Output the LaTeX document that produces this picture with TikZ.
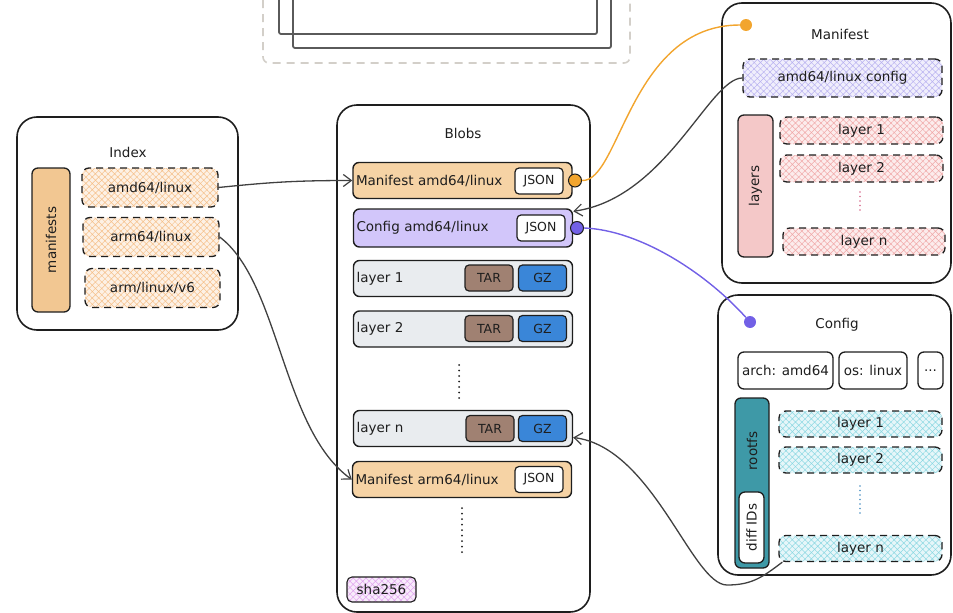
\documentclass[tikz,border=0pt]{standalone}
\usepackage{fontspec}
\setmainfont{DejaVu Sans}
\usetikzlibrary{arrows.meta,patterns.meta}

\definecolor{ink}{HTML}{1E1E1E}
\definecolor{framegray}{HTML}{D3CFC9}
\definecolor{framedark}{HTML}{5A5A5A}
\definecolor{barorange}{HTML}{F2C792}
\definecolor{roworange}{HTML}{F6D3A5}
\definecolor{rowpurple}{HTML}{D2C6FA}
\definecolor{rowgray}{HTML}{E9ECEF}
\definecolor{tarbrown}{HTML}{A08172}
\definecolor{gzblue}{HTML}{3A86D8}
\definecolor{hatchorange}{HTML}{F5C08A}
\definecolor{hatchviolet}{HTML}{E0A4EE}
\definecolor{hatchlavender}{HTML}{B9B2F0}
\definecolor{hatchpink}{HTML}{F0A8A8}
\definecolor{hatchcyan}{HTML}{8CD8E2}
\definecolor{barpink}{HTML}{F4C8C8}
\definecolor{barteal}{HTML}{3E99A7}
\definecolor{dotorange}{HTML}{F2A52E}
\definecolor{dotpurple}{HTML}{7260E6}
\definecolor{dotsred}{HTML}{D66A8C}
\definecolor{dotsblue}{HTML}{4A90C2}

\tikzset{
  every node/.style={font=\fontsize{13.5}{15}\selectfont, text=ink},
  box/.style={draw=ink, line width=1.6pt, rounded corners=20pt, inner sep=0pt},
  title/.style={inner sep=1pt},
  row/.style={draw=ink, line width=1.4pt, rounded corners=6pt, fill=#1, minimum height=36pt,
    text width=213pt, inner xsep=3pt, inner ysep=0pt, align=left},
  tag/.style={draw=ink, line width=1.2pt, rounded corners=4pt, fill=#1, minimum width=48pt,
    minimum height=26pt, inner sep=0pt, font=\fontsize{12.5}{13}\selectfont},
  item/.style={draw=ink, dash pattern=on 7pt off 5pt, line width=1.3pt, rounded corners=7pt,
    inner sep=0pt, preaction={fill=#1!22},
    pattern={Hatch[angle=45,distance=4.5pt,line width=0.5pt]}, pattern color=#1},
  plain/.style={draw=ink, line width=1.3pt, rounded corners=6pt, fill=white, inner sep=0pt},
  bar/.style={draw=ink, line width=1.3pt, rounded corners=6pt, fill=#1, rotate=90, inner sep=0pt},
  dot/.style={circle, fill=#1, inner sep=0pt, minimum size=12pt},
  port/.style={circle, fill=#1, draw=ink, line width=1pt, inner sep=0pt, minimum size=13pt},
  vdots/.style={line width=2pt, line cap=round, dash pattern=on 0pt off 5.5pt, #1},
  link/.style={draw=ink!85, line width=1.3pt, -{Straight Barb[length=8pt,width=12pt,line width=1.2pt]}},
  wire/.style={line width=1.4pt, draw=#1}
}

\begin{document}
\begin{tikzpicture}[x=1pt,y=-1pt]
		%%%%% START %%%%%
		\useasboundingbox (0,0) rectangle (953,613);
		\clip (0,0) rectangle (953,613);
		
		% frame at the top
		\draw[framegray, line width=1.6pt, dash pattern=on 8pt off 6pt, rounded corners=6pt] (263,-20) rectangle (630,63);
		\draw[framedark, line width=1.8pt, rounded corners=2pt] (279,-20) rectangle (597,34);
		\draw[framedark, line width=1.8pt, rounded corners=2pt] (293,-20) rectangle (611,48);
		
		% index
		\node[box, minimum width=221pt, minimum height=213pt] (index) at (127.5,223.5) {};
		\node[title] (indextitle) at (128,152) {Index};
		\node[bar=barorange, minimum width=144pt, minimum height=38pt] (manifests) at (51,240) {manifests};
		\node[item=hatchorange, minimum width=136pt, minimum height=39pt] (idxamd) at (150,187.5) {amd64/linux};
		\node[item=hatchorange, minimum width=136pt, minimum height=39pt] (idxarm) at (151,237) {arm64/linux};
		\node[item=hatchorange, minimum width=135pt, minimum height=39pt] (idxv6) at (152.5,288) {arm/linux/v6};
		
		% blobs
		\node[box, minimum width=253pt, minimum height=507pt] (blobs) at (463.5,358.5) {};
		\node[title] (blobstitle) at (463,133) {Blobs};
		\node[row=roworange] (bmanamd) at (462.5,180.5) {Manifest amd64/linux};
		\node[tag=white] (bmanamdjson) at (539,181) {JSON};
		\node[row=rowpurple, minimum height=38pt] (bcfg) at (463,228) {Config amd64/linux};
		\node[tag=white] (bcfgjson) at (541,228) {JSON};
		\node[row=rowgray] (blay1) at (463,278.5) {layer 1};
		\node[tag=tarbrown] (blay1tar) at (489,278) {TAR};
		\node[tag=gzblue] (blay1gz) at (542.5,278) {GZ};
		\node[row=rowgray] (blay2) at (463,329) {layer 2};
		\node[tag=tarbrown] (blay2tar) at (489,328.5) {TAR};
		\node[tag=gzblue] (blay2gz) at (542.5,328.5) {GZ};
		\draw[vdots=ink] (459,365) -- (459,401);
		\node[row=rowgray] (blayn) at (463,428.5) {layer n};
		\node[tag=tarbrown] (blayntar) at (490,428.5) {TAR};
		\node[tag=gzblue] (blayngz) at (542.5,428.5) {GZ};
		\node[row=roworange] (bmanarm) at (462,479.5) {Manifest arm64/linux};
		\node[tag=white] (bmanarmjson) at (539,479.5) {JSON};
		\draw[vdots=ink] (462,508) -- (462,554);
		\node[item=hatchviolet, dash pattern=, line width=1.1pt, minimum width=69pt, minimum height=25pt, rounded corners=5pt] (sha) at (381.5,589.5) {sha256};
		\node[port=dotorange] (bmanamdport) at (575,180.5) {};
		\node[port=dotpurple] (bcfgport) at (577,228) {};
		
		% manifest
		\node[box, minimum width=229pt, minimum height=280pt] (manifest) at (836.5,143) {};
		\node[title] (manifesttitle) at (840,34) {Manifest};
		\node[dot=dotorange] (manifestdot) at (746,25) {};
		\node[item=hatchlavender, minimum width=199pt, minimum height=38pt] (mcfg) at (842.5,78) {amd64/linux config};
		\node[bar=barpink, minimum width=142pt, minimum height=35pt] (layers) at (755.5,186) {layers};
		\node[item=hatchpink, minimum width=163pt, minimum height=27pt] (mlay1) at (861.5,130.5) {layer 1};
		\node[item=hatchpink, minimum width=163pt, minimum height=27pt] (mlay2) at (861.5,168.5) {layer 2};
		\draw[vdots=dotsred, line width=1.6pt, dash pattern=on 0pt off 4.5pt] (860,192) -- (860,214);
		\node[item=hatchpink, minimum width=162pt, minimum height=27pt] (mlayn) at (864,241.5) {layer n};
		
		% config
		\node[box, minimum width=233pt, minimum height=280pt] (config) at (834.5,435) {};
		\node[title] (configtitle) at (837,325) {Config};
		\node[dot=dotpurple] (configdot) at (750,322) {};
		\node[plain, minimum width=95pt, minimum height=37pt] (arch) at (785.5,370.5) {arch: amd64};
		\node[plain, minimum width=68pt, minimum height=37pt] (os) at (873,370.5) {os: linux};
		\node[plain, minimum width=25pt, minimum height=37pt] (more) at (930.5,370.5) {...};
		\node[bar=barteal, minimum width=170pt, minimum height=34pt] (rootfs) at (752,483) {};
		\node[rotate=90, inner sep=0pt] (rootfslabel) at (752,451) {rootfs};
		\node[bar=white, minimum width=71pt, minimum height=25pt] (diffids) at (751.5,527.5) {diff IDs};
		\node[item=hatchcyan, minimum width=163pt, minimum height=26pt] (clay1) at (860.5,424) {layer 1};
		\node[item=hatchcyan, minimum width=163pt, minimum height=26pt] (clay2) at (860.5,460) {layer 2};
		\draw[vdots=dotsblue, line width=1.6pt, dash pattern=on 0pt off 4.5pt] (860,486) -- (860,514);
		\node[item=hatchcyan, minimum width=163pt, minimum height=26pt] (clayn) at (860.5,548.5) {layer n};
		
		% connectors
		\coordinate (loopturn) at (727,585);
		\draw[link] (idxamd.east) .. controls +(50,-5) and +(-60,0) .. (bmanamd.west);
		\draw[link] (idxarm.east) .. controls +(60,45) and +(-70,-50) .. (bmanarm.west);
		\draw[wire=dotorange] (bmanamdport.east) .. controls +(38,2) and +(-110,0) .. (manifestdot.west);
		\draw[link] (mcfg.west) .. controls +(-33,0) and +(93,-13) .. ([yshift=-3pt]bcfg.north east);
		\draw[wire=dotpurple] (bcfgport.east) .. controls +(55,2) and +(-45,-50) .. (configdot);
		\draw[link] ([xshift=4pt]clayn.south west) .. controls +(-20,15) and +(25,0) .. (loopturn)
			.. controls +(-35,0) and +(80,10) .. ([yshift=-9pt]blayn.east);
		
		%%%%% END %%%%%
	\end{tikzpicture}
\end{document}
